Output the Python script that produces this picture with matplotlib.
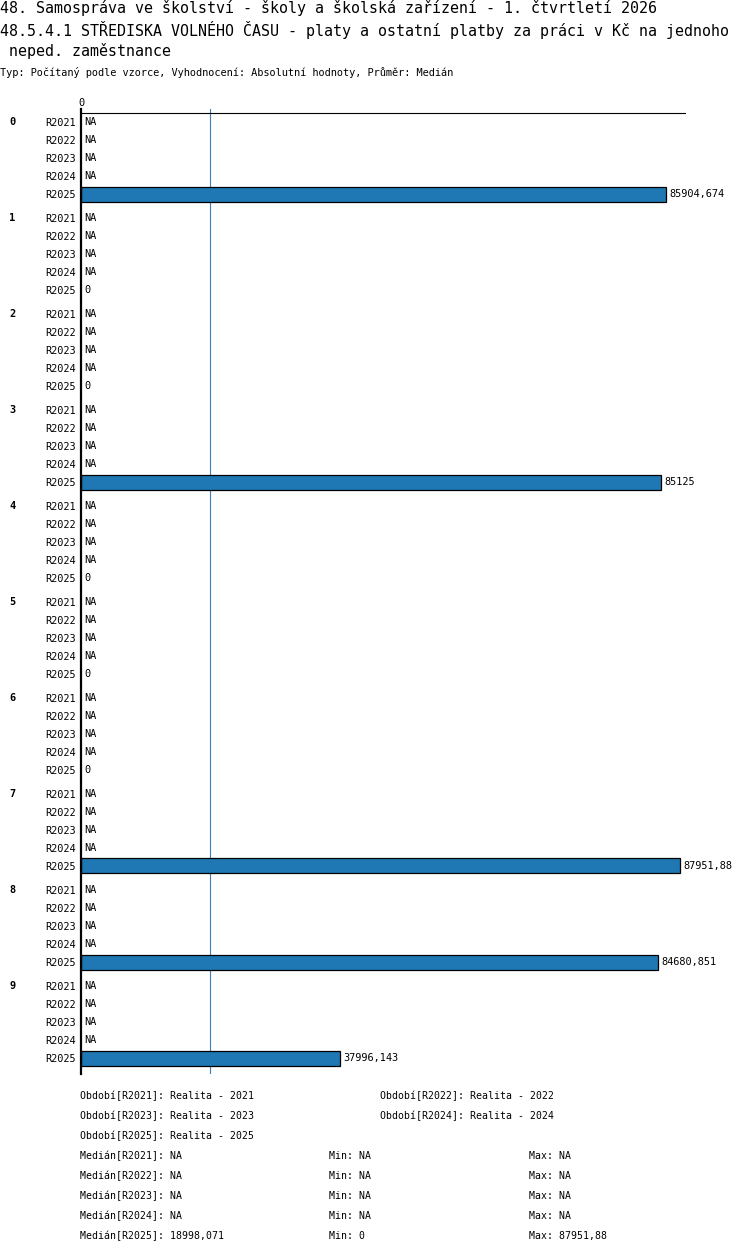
import matplotlib
matplotlib.use("Agg")
import matplotlib.pyplot as plt
import numpy as np

plt.rcParams['font.family'] = ['DejaVu Sans Mono']

# data
groups = ['0', '1', '2', '3', '4', '5', '6', '7', '8', '9']
periods = ['R2021', 'R2022', 'R2023', 'R2024', 'R2025']
# only R2025 has values, the older periods are NA everywhere
r2025 = [85904.674, 0, 0, 85125, 0, 0, 0, 87951.88, 84680.851, 37996.143]
period_names = ['Realita - 2021', 'Realita - 2022', 'Realita - 2023',
                'Realita - 2024', 'Realita - 2025']

title1 = "48. Samospráva ve školství - školy a školská zařízení - 1. čtvrtletí 2026"
title2 = "48.5.4.1 STŘEDISKA VOLNÉHO ČASU - platy a ostatní platby za práci v Kč na jednoho"
title3 = " neped. zaměstnance"
subtitle = "Typ: Počítaný podle vzorce, Vyhodnocení: Absolutní hodnoty, Průměr: Medián"


def fmt(v):
    if v is None:
        return 'NA'
    s = f"{v:.3f}".rstrip('0').rstrip('.')
    return s.replace('.', ',')


values = []
for g in range(len(groups)):
    values.append([None, None, None, None, r2025[g]])

W, H = 750, 1254
fig = plt.figure(figsize=(W / 100, H / 100), dpi=100)

# pixel helpers
def fx(px):
    return px / W

def fy(py):
    return 1 - py / H

ax_top, ax_bot = 109, 1074
ax = fig.add_axes([fx(81), fy(ax_bot), fx(686) - fx(81), (ax_bot - ax_top) / H])

row_px = 18.0
group_step = 96.0 / row_px
small = 7.4

ypos = []
ylabels = []
for g in range(len(groups)):
    for r in range(len(periods)):
        y = g * group_step + r
        ypos.append(y)
        ylabels.append(periods[r])
        v = values[g][r]
        if v is not None and v > 0:
            ax.barh(y, v, height=15 / row_px, color='#1f77b4',
                    edgecolor='black', linewidth=0.9, zorder=3)
        ax.annotate(fmt(v), (v if v else 0, y), xytext=(2.4, 0),
                    textcoords='offset points', va='center', ha='left',
                    fontsize=small, zorder=4)
    ax.text(-72 / 605, g * group_step, groups[g], transform=ax.get_yaxis_transform(),
            ha='left', va='center', fontsize=small, fontweight='bold')

median = np.median(r2025)
mx = max(r2025)
mn = min(r2025)

ax.set_xlim(0, 605 * 146.8)
ax.set_ylim((ax_bot - 122) / row_px, (ax_top - 122) / row_px)
ax.axvline(median, color='#3f7fb5', linewidth=0.8, zorder=1)
ax.axhline(-0.5, color='black', linewidth=0.8, zorder=2)

ax.set_yticks(ypos)
ax.set_yticklabels(ylabels, fontsize=small)
ax.tick_params(axis='y', length=0, pad=4)
ax.xaxis.tick_top()
ax.set_xticks([0])
ax.set_xticklabels(['0'], fontsize=small)
ax.tick_params(axis='x', length=0, pad=0.5)
for s in ['top', 'right', 'bottom']:
    ax.spines[s].set_visible(False)
ax.spines['left'].set_linewidth(1.6)
ax.spines['left'].set_zorder(5)

# titles
fig.text(fx(0), fy(8), title1, fontsize=10.8, va='center', ha='left')
fig.text(fx(0), fy(30), title2, fontsize=10.8, va='center', ha='left')
fig.text(fx(0), fy(51), title3, fontsize=10.8, va='center', ha='left')
fig.text(fx(0), fy(73), subtitle, fontsize=small, va='center', ha='left')

# legend below the chart
leg_fs = 7.1
leg_x = [80, 380]
for i, name in enumerate(period_names):
    col = i % 2
    row = i // 2
    fig.text(fx(leg_x[col]), fy(1096 + 20 * row),
             f"Období[{periods[i]}]: {name}", fontsize=leg_fs, va='center')

for i, p in enumerate(periods):
    y = 1156 + 20 * i
    if p == 'R2025':
        med_s, min_s, max_s = fmt(median), fmt(mn), fmt(mx)
    else:
        med_s = min_s = max_s = 'NA'
    fig.text(fx(80), fy(y), f"Medián[{p}]: {med_s}", fontsize=leg_fs, va='center')
    fig.text(fx(329), fy(y), f"Min: {min_s}", fontsize=leg_fs, va='center')
    fig.text(fx(529), fy(y), f"Max: {max_s}", fontsize=leg_fs, va='center')

fig.savefig('out.png', dpi=100)
